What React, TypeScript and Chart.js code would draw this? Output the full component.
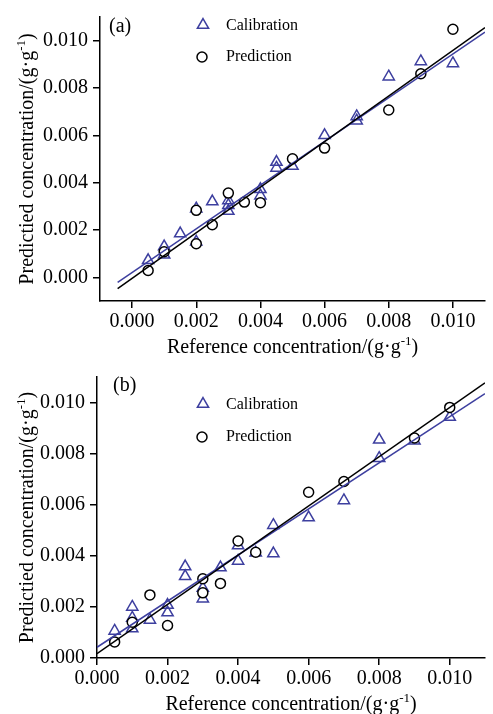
import React, { useEffect, useRef } from "react";
import { Chart, registerables } from "chart.js";

Chart.register(...registerables);

// ---------- data (g·g⁻¹) ----------
const TICK_VALUES = [0, 0.002, 0.004, 0.006, 0.008, 0.01];

// Panel (a)
const A_CAL_X = [0.0005, 0.001, 0.001, 0.0015, 0.002, 0.002, 0.0025, 0.003, 0.003, 0.003, 0.004, 0.004, 0.0045, 0.0045, 0.005, 0.006, 0.007, 0.007, 0.008, 0.009, 0.01];
const A_CAL_Y = [0.00072, 0.0013, 0.00095, 0.00185, 0.0029, 0.0015, 0.0032, 0.00325, 0.00305, 0.0028, 0.00372, 0.00345, 0.00487, 0.00462, 0.0047, 0.006, 0.0068, 0.00662, 0.00848, 0.00912, 0.00904];
const A_PRED_X = [0.0005, 0.001, 0.002, 0.002, 0.0025, 0.003, 0.0035, 0.004, 0.005, 0.006, 0.008, 0.009, 0.01];
const A_PRED_Y = [0.00029, 0.00108, 0.00283, 0.00142, 0.00222, 0.00356, 0.00318, 0.00315, 0.00501, 0.00546, 0.00707, 0.0086, 0.01048];
const A_FIT_PRED_X = [-0.00045, 0.011];
const A_FIT_PRED_Y = [-0.00048, 0.01055];
const A_FIT_CAL_X = [-0.00045, 0.011];
const A_FIT_CAL_Y = [-0.00021, 0.01036];

// Panel (b)
const B_CAL_X = [0.0005, 0.001, 0.001, 0.001, 0.0015, 0.002, 0.002, 0.0025, 0.0025, 0.003, 0.003, 0.0035, 0.004, 0.004, 0.0045, 0.005, 0.005, 0.006, 0.007, 0.008, 0.008, 0.009, 0.01];
const B_CAL_Y = [0.00106, 0.002, 0.00157, 0.00115, 0.00149, 0.00207, 0.00178, 0.00358, 0.0032, 0.00274, 0.00232, 0.00354, 0.0044, 0.0038, 0.00412, 0.0052, 0.00409, 0.0055, 0.00617, 0.00854, 0.00782, 0.0085, 0.00943];
const B_PRED_X = [0.0005, 0.001, 0.0015, 0.002, 0.003, 0.003, 0.0035, 0.004, 0.0045, 0.006, 0.007, 0.009, 0.01];
const B_PRED_Y = [0.00063, 0.0014, 0.00247, 0.00127, 0.0031, 0.00255, 0.00292, 0.00458, 0.00414, 0.00649, 0.00691, 0.00861, 0.00981];
const B_FIT_PRED_X = [0, 0.011];
const B_FIT_PRED_Y = [0.00017, 0.01077];
const B_FIT_CAL_X = [0, 0.011];
const B_FIT_CAL_Y = [0.00042, 0.01035];

const LEGEND_LABELS = ["Calibration", "Prediction"];
const X_TITLE = ["Reference concentration/(g·g", "-1", ")"];
const Y_TITLE = ["Predictied concentration/(g·g", "-1", ")"];

// ---------- style ----------
const BLUE = "#3d3f9f";
const FONT = '"Liberation Serif", "Times New Roman", serif';

const toPts = (xs: number[], ys: number[]) => xs.map((x, i) => ({ x, y: ys[i] }));

function drawTriangle(ctx: CanvasRenderingContext2D, x: number, y: number, r: number) {
  ctx.beginPath();
  ctx.moveTo(x, y - r);
  ctx.lineTo(x + r * Math.cos(Math.PI / 6), y + r / 2);
  ctx.lineTo(x - r * Math.cos(Math.PI / 6), y + r / 2);
  ctx.closePath();
  ctx.stroke();
}

function drawSupText(ctx: CanvasRenderingContext2D, parts: string[], cx: number, baseline: number) {
  const main = `20px ${FONT}`;
  const sup = `13px ${FONT}`;
  ctx.font = main;
  const w1 = ctx.measureText(parts[0]).width;
  const w3 = ctx.measureText(parts[2]).width;
  ctx.font = sup;
  const w2 = ctx.measureText(parts[1]).width;
  let x = cx - (w1 + w2 + w3) / 2;
  ctx.textAlign = "left";
  ctx.textBaseline = "alphabetic";
  ctx.font = main;
  ctx.fillText(parts[0], x, baseline);
  x += w1;
  ctx.font = sup;
  ctx.fillText(parts[1], x, baseline - 8);
  x += w2;
  ctx.font = main;
  ctx.fillText(parts[2], x, baseline);
}

const decoPlugin = {
  id: "deco",
  afterDraw(chart: any, _args: any, opts: any) {
    const ctx: CanvasRenderingContext2D = chart.ctx;
    const ca = chart.chartArea;
    ctx.save();
    ctx.fillStyle = "#000";
    // panel label
    ctx.font = `20px ${FONT}`;
    ctx.textAlign = "left";
    ctx.textBaseline = "middle";
    ctx.fillText(opts.label, opts.labelX, opts.labelY);
    // legend
    ctx.lineWidth = 1.5;
    ctx.strokeStyle = BLUE;
    drawTriangle(ctx, opts.legX, opts.legY1, 6.5);
    ctx.strokeStyle = "#000";
    ctx.fillStyle = "#fff";
    ctx.beginPath();
    ctx.arc(opts.legX - 1, opts.legY2, 5, 0, Math.PI * 2);
    ctx.fill();
    ctx.stroke();
    ctx.fillStyle = "#000";
    ctx.font = `16px ${FONT}`;
    ctx.textBaseline = "middle";
    ctx.fillText(LEGEND_LABELS[0], opts.legTextX, opts.legY1 + 1);
    ctx.fillText(LEGEND_LABELS[1], opts.legTextX, opts.legY2);
    // x title
    drawSupText(ctx, X_TITLE, (ca.left + ca.right) / 2, opts.xTitleBase);
    // y title
    ctx.save();
    ctx.translate(opts.yTitleBase, (ca.top + ca.bottom) / 2);
    ctx.rotate(-Math.PI / 2);
    drawSupText(ctx, Y_TITLE, 0, 0);
    ctx.restore();
    ctx.restore();
  },
};

function axis(min: number, max: number, horizontal: boolean, size: number) {
  return {
    type: "linear",
    min,
    max,
    afterBuildTicks: (s: any) => {
      s.ticks = TICK_VALUES.map((v) => ({ value: v }));
    },
    afterFit: (s: any) => {
      if (horizontal) s.height = size;
      else s.width = size;
    },
    border: { display: true, color: "#000", width: 1.5 },
    grid: { drawOnChartArea: false, drawTicks: true, tickLength: 7, color: "#000", lineWidth: 1.5 },
    ticks: {
      color: "#000",
      font: { family: FONT, size: 20 },
      padding: horizontal ? 2 : 5,
      maxRotation: 0,
      autoSkip: false,
      callback: (v: any) => Number(v).toFixed(3),
    },
  };
}

interface PanelCfg {
  h: number;
  cal: { x: number; y: number }[];
  pred: { x: number; y: number }[];
  fitCal: { x: number; y: number }[];
  fitPred: { x: number; y: number }[];
  xMin: number;
  yMin: number;
  padTop: number;
  padRight: number;
  yW: number;
  xH: number;
  deco: any;
}

function Panel({ cfg }: { cfg: PanelCfg }) {
  const ref = useRef<HTMLCanvasElement>(null);
  useEffect(() => {
    const chart = new Chart(ref.current as HTMLCanvasElement, {
      type: "scatter",
      data: {
        datasets: [
          { data: cfg.fitPred, showLine: true, borderColor: "#000", borderWidth: 1.5, pointRadius: 0, order: 0 },
          { data: cfg.fitCal, showLine: true, borderColor: BLUE, borderWidth: 1.5, pointRadius: 0, order: 1 },
          { data: cfg.pred, pointStyle: "circle", pointRadius: 5, borderColor: "#000", backgroundColor: "#fff", borderWidth: 1.5, order: 2 },
          { data: cfg.cal, pointStyle: "triangle", pointRadius: 6.5, borderColor: BLUE, backgroundColor: "rgba(0,0,0,0)", borderWidth: 1.5, order: 3 },
        ],
      } as any,
      options: {
        responsive: false,
        animation: false,
        layout: { padding: { top: cfg.padTop, right: cfg.padRight, left: 0, bottom: 0 } },
        plugins: { legend: { display: false }, tooltip: { enabled: false }, deco: cfg.deco } as any,
        scales: {
          x: axis(cfg.xMin, 0.011, true, cfg.xH),
          y: axis(cfg.yMin, 0.011, false, cfg.yW),
        } as any,
      },
      plugins: [decoPlugin],
    });
    return () => chart.destroy();
  }, []);
  return <canvas ref={ref} width={493} height={cfg.h} style={{ display: "block" }} />;
}

const PANEL_A: PanelCfg = {
  h: 360,
  cal: toPts(A_CAL_X, A_CAL_Y),
  pred: toPts(A_PRED_X, A_PRED_Y),
  fitCal: toPts(A_FIT_CAL_X, A_FIT_CAL_Y),
  fitPred: toPts(A_FIT_PRED_X, A_FIT_PRED_Y),
  xMin: -0.001,
  yMin: -0.001,
  padTop: 12,
  padRight: 1,
  yW: 100,
  xH: 59,
  deco: { label: "(a)", labelX: 109, labelY: 27, legX: 203, legY1: 25, legY2: 57, legTextX: 226, xTitleBase: 353, yTitleBase: 33 },
};

const PANEL_B: PanelCfg = {
  h: 354,
  cal: toPts(B_CAL_X, B_CAL_Y),
  pred: toPts(B_PRED_X, B_PRED_Y),
  fitCal: toPts(B_FIT_CAL_X, B_FIT_CAL_Y),
  fitPred: toPts(B_FIT_PRED_X, B_FIT_PRED_Y),
  xMin: 0,
  yMin: 0,
  padTop: 8,
  padRight: 2,
  yW: 97,
  xH: 56,
  deco: { label: "(b)", labelX: 113, labelY: 26, legX: 203, legY1: 44, legY2: 77, legTextX: 226, xTitleBase: 350, yTitleBase: 33 },
};

export default function App() {
  return (
    <div style={{ position: "absolute", top: 0, left: 0, width: 493, height: 714, background: "#fff" }}>
      <Panel cfg={PANEL_A} />
      <Panel cfg={PANEL_B} />
    </div>
  );
}
